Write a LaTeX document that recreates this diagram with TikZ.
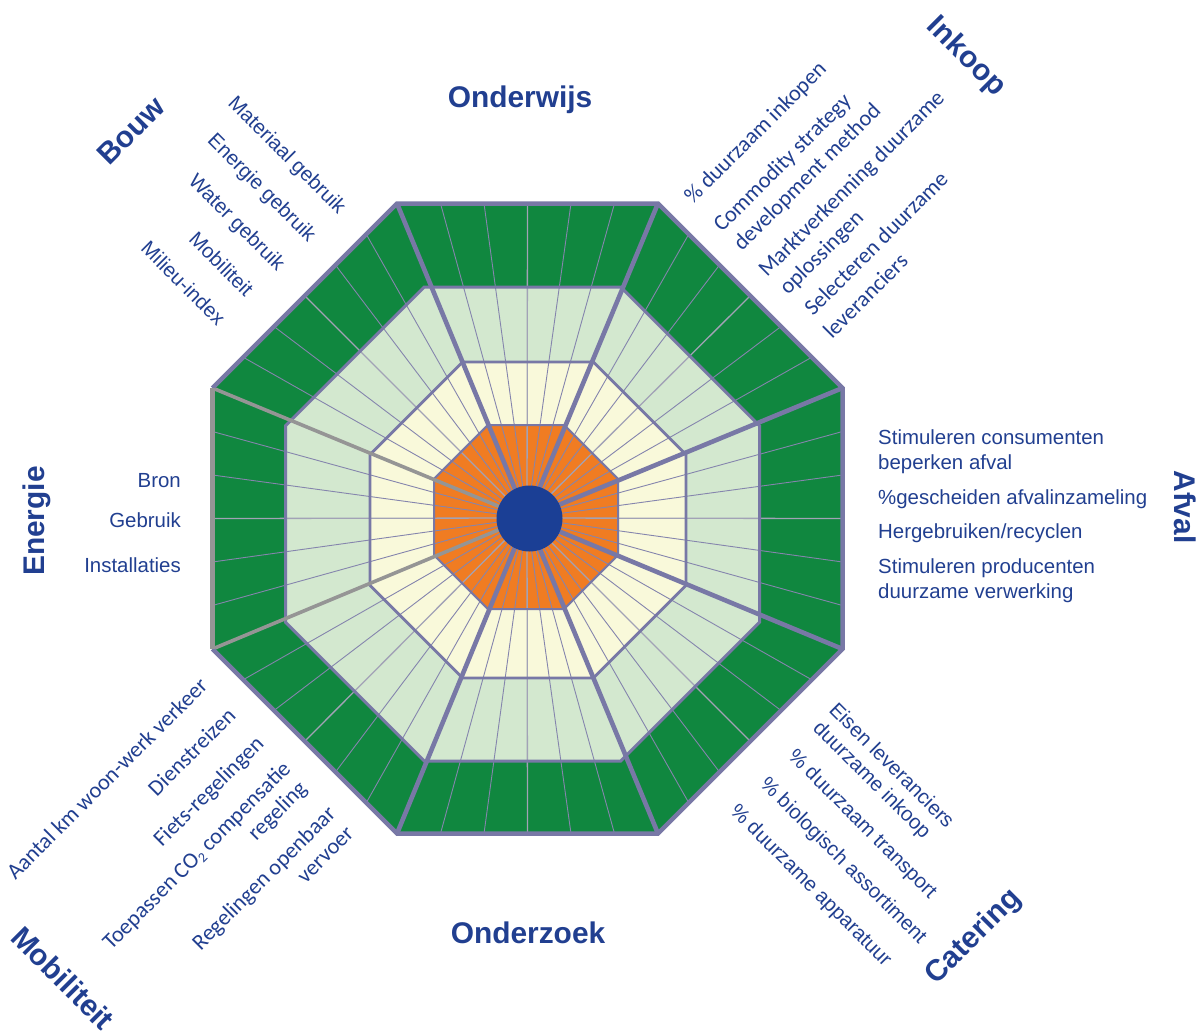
\documentclass[tikz,border=0pt]{standalone}
\usepackage{fontspec}
\setmainfont{Liberation Sans}
\newfontfamily\calfont{Carlito}
\usetikzlibrary{calc}
\definecolor{dkgreen}{HTML}{10873F}
\definecolor{ltgreen}{HTML}{D3E8CF}
\definecolor{paleyel}{HTML}{F9F9DA}
\definecolor{orng}{HTML}{F07C22}
\definecolor{hubblue}{HTML}{1B3F95}
\definecolor{linepurple}{HTML}{7878A6}
\definecolor{spokecol}{HTML}{8585AD}
\definecolor{midspokecol}{HTML}{A2A2B6}
\definecolor{graydiv}{HTML}{959595}
\definecolor{txtblue}{HTML}{213F90}
\newcommand\mkoct[4]{%
  \pgfmathsetmacro\myoctt{0.41421*#4}%
  \coordinate (#1-1) at ({#2+#4},{#3-\myoctt});
  \coordinate (#1-2) at ({#2+\myoctt},{#3-#4});
  \coordinate (#1-3) at ({#2-\myoctt},{#3-#4});
  \coordinate (#1-4) at ({#2-#4},{#3-\myoctt});
  \coordinate (#1-5) at ({#2-#4},{#3+\myoctt});
  \coordinate (#1-6) at ({#2-\myoctt},{#3+#4});
  \coordinate (#1-7) at ({#2+\myoctt},{#3+#4});
  \coordinate (#1-8) at ({#2+#4},{#3+\myoctt});
}
\tikzset{
  spoke/.style={draw=spokecol, line width=0.9bp},
  midspoke/.style={draw=midspokecol, line width=1.3bp},
  divider/.style={draw=linepurple, line width=4.6bp},
  graydivider/.style={draw=graydiv, line width=3.6bp},
  ringline/.style={draw=linepurple, line width=3bp, line join=miter},
  outline/.style={draw=linepurple, line width=4.5bp, line join=miter},
  lab/.style={text=txtblue, inner sep=0pt, font=\fontsize{20.5}{24}\selectfont},
  clab/.style={text=txtblue, inner sep=0pt, font=\calfont\fontsize{22.5}{26}\selectfont},
  head/.style={text=txtblue, inner sep=0pt, font=\bfseries\fontsize{30}{36}\selectfont},
}
\begin{document}
\begin{tikzpicture}[x=1bp,y=-1bp]
\useasboundingbox (0,0) rectangle (1203,1035);
\coordinate (C) at (527,518);
\mkoct{O}{527.5}{518.5}{315}
\mkoct{G}{522.5}{524}{237}
\mkoct{Y}{528}{520}{158}
\mkoct{R}{526}{517}{92}
% fills
\fill[dkgreen] (O-1) -- (O-2) -- (O-3) -- (O-4) -- (O-5) -- (O-6) -- (O-7) -- (O-8) -- cycle;
\fill[ltgreen] (G-1) -- (G-2) -- (G-3) -- (G-4) -- (G-5) -- (G-6) -- (G-7) -- (G-8) -- cycle;
\fill[paleyel] (Y-1) -- (Y-2) -- (Y-3) -- (Y-4) -- (Y-5) -- (Y-6) -- (Y-7) -- (Y-8) -- cycle;
\fill[orng] (R-1) -- (R-2) -- (R-3) -- (R-4) -- (R-5) -- (R-6) -- (R-7) -- (R-8) -- cycle;
% spokes
\foreach \i/\j in {1/2,2/3,3/4,4/5,5/6,6/7,7/8,8/1}{
  \foreach \k in {1,2,4,5}{
    \draw[spoke] (C) -- ($(O-\i)!\k/6!(O-\j)$);
  }
  \draw[midspoke] (C) -- ($(O-\i)!0.5!(O-\j)$);
}
% ring outlines
\draw[ringline] (G-1) -- (G-2) -- (G-3) -- (G-4) -- (G-5) -- (G-6) -- (G-7) -- (G-8) -- cycle;
\draw[ringline, line width=2.8bp] (Y-1) -- (Y-2) -- (Y-3) -- (Y-4) -- (Y-5) -- (Y-6) -- (Y-7) -- (Y-8) -- cycle;
\draw[ringline, line width=2bp] (R-1) -- (R-2) -- (R-3) -- (R-4) -- (R-5) -- (R-6) -- (R-7) -- (R-8) -- cycle;
% dividers
\foreach \i in {1,2,3,6,7,8}{ \draw[divider] (C) -- (O-\i); }
\foreach \i in {4,5}{ \draw[graydivider] (C) -- (O-\i); }
% outer outline
\draw[outline] (O-4) -- (O-3) -- (O-2) -- (O-1) -- (O-8) -- (O-7) -- (O-6) -- (O-5);
\draw[draw=graydiv, line width=4.5bp] (O-4) -- (O-5);
% hub
\node[circle, fill=hubblue, minimum size=66bp, inner sep=0pt] (hub) at (529.5,518.5) {};
% headings
\node[head, anchor=base] (hOnderwijs) at (520,107) {Onderwijs};
\node[head, anchor=base] (hOnderzoek) at (528,943) {Onderzoek};
\node[head, rotate=90] (hEnergie) at (37,521) {Energie};
\node[head, rotate=-90] (hAfval) at (1185,507) {Afval};
\node[head, rotate=45] (hBouw) at (131,131) {Bouw};
\node[head, rotate=-45] (hInkoop) at (966,57) {Inkoop};
\node[head, rotate=45] (hCatering) at (974,937) {Catering};
\node[head, rotate=-45] (hMobiliteit) at (63,978) {Mobiliteit};
% Bouw items
\node[lab, rotate=-45, anchor=base east] (b1) at (338,215) {Materiaal gebruik};
\node[lab, rotate=-45, anchor=base east] (b2) at (308,243) {Energie gebruik};
\node[lab, rotate=-45, anchor=base east] (b3) at (277,272) {Water gebruik};
\node[lab, rotate=-45, anchor=base east] (b4) at (245,298) {Mobiliteit};
\node[lab, rotate=-45, anchor=base east] (b5) at (217,327) {Milieu-index};
% Inkoop items
\node[clab, rotate=45, anchor=base west] (i1) at (693,205) {\% duurzaam inkopen};
\node[clab, rotate=45, anchor=base west] (i2a) at (722,233) {Commodity strategy};
\node[clab, rotate=45, anchor=base west] (i2b) at (742,252) {development method};
\node[clab, rotate=45, anchor=base west] (i3a) at (767,278) {Marktverkenning duurzame};
\node[clab, rotate=45, anchor=base west] (i3b) at (788,296) {oplossingen};
\node[clab, rotate=45, anchor=base west] (i4a) at (813,317) {Selecteren duurzame};
\node[clab, rotate=45, anchor=base west] (i4b) at (832,340) {leveranciers};
% Afval items
\node[lab, anchor=base west] (a1a) at (878,444) {Stimuleren consumenten};
\node[lab, anchor=base west] (a1b) at (878,469) {beperken afval};
\node[lab, anchor=base west] (a2) at (878,504) {\%gescheiden afvalinzameling};
\node[lab, anchor=base west] (a3) at (878,538) {Hergebruiken/recyclen};
\node[lab, anchor=base west] (a4a) at (878,573) {Stimuleren producenten};
\node[lab, anchor=base west] (a4b) at (878,598) {duurzame verwerking};
% Energie items
\node[lab, anchor=base east] (e1) at (181,487) {Bron};
\node[lab, anchor=base east] (e2) at (181,527) {Gebruik};
\node[lab, anchor=base east] (e3) at (181,572) {Installaties};
% Catering items
\node[lab, rotate=-45, anchor=base west] (c1a) at (828,711) {Eisen leveranciers};
\node[lab, rotate=-45, anchor=base west] (c1b) at (812,729) {duurzame inkoop};
\node[lab, rotate=-45, anchor=base west] (c2) at (787,757) {\% duurzaam transport};
\node[lab, rotate=-45, anchor=base west] (c3) at (759,785) {\% biologisch assortiment};
\node[lab, rotate=-45, anchor=base west] (c4) at (729,812) {\% duurzame apparatuur};
% Mobiliteit items
\node[clab, rotate=45, anchor=base east] (m1) at (209,687) {Aantal km woon-werk verkeer};
\node[clab, rotate=45, anchor=base east] (m2) at (237,717) {Dienstreizen};
\node[clab, rotate=45, anchor=base east] (m3) at (265,745) {Fiets-regelingen};
\node[clab, rotate=45, anchor=base east] (m4a) at (292,770) {Toepassen CO{\fontsize{14}{14}\selectfont\raisebox{-3.5bp}{2}} compensatie};
\node[clab, rotate=45, anchor=base east] (m4b) at (308,790) {regeling};
\node[clab, rotate=45, anchor=base east] (m5a) at (337,815) {Regelingen openbaar};
\node[clab, rotate=45, anchor=base east] (m5b) at (355,835) {vervoer};
\end{tikzpicture}
\end{document}
